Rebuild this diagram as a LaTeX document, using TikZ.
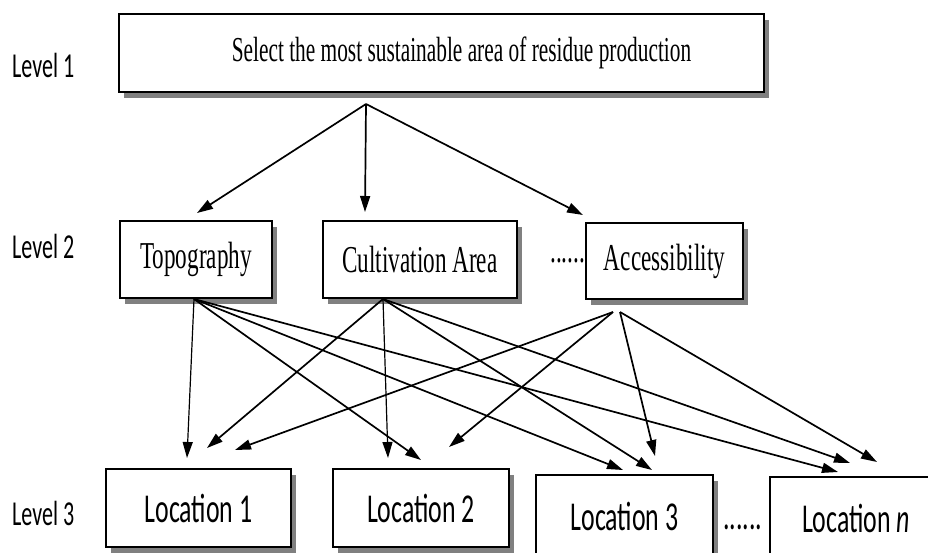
\documentclass[tikz,border=0pt]{standalone}
\usepackage{fontspec}
\newfontfamily\tnrfnt[FakeStretch=0.61]{Liberation Serif}
\newfontfamily\calfnt[FakeStretch=0.63]{Carlito}
\usetikzlibrary{shadows,arrows.meta}
\begin{document}
\begin{tikzpicture}[x=1pt,y=-1pt,
  box/.style={draw=black, line width=1.9pt, fill=white, inner sep=0pt,
    drop shadow={shadow xshift=5pt, shadow yshift=-6pt, fill=black!50, opacity=1}},
  serifbox/.style={box, font=\tnrfnt\fontsize{38}{40}\selectfont},
  locbox/.style={box, line width=1.7pt, minimum width=#1, font=\calfnt\fontsize{41}{44}\selectfont},
  lvl/.style={anchor=base west, inner sep=0pt, font=\calfnt\fontsize{35}{38}\selectfont},
  arr/.style={-{Triangle[length=16pt,width=10pt]}, line width=1.7pt},
  dots/.style={inner sep=0pt, anchor=base west}]
\useasboundingbox (0,0) rectangle (928,552);
% level labels
\node[lvl] (l1) at (12,77) {Level 1};
\node[lvl] (l2) at (12,258) {Level 2};
\node[lvl] (l3) at (12,525) {Level 3};
% level 1
\node[box, minimum width=645pt, minimum height=78pt, font=\tnrfnt\fontsize{35}{38}\selectfont] (top) at (441.5,53) {\hspace*{40pt}Select the most sustainable area of residue production};
% level 2
\node[serifbox, minimum width=152pt, minimum height=77pt] (topo) at (196,259.5) {Topography};
\node[serifbox, minimum width=194pt, minimum height=77pt] (cult) at (420,259.5) {Cultivation Area};
\node[serifbox, minimum width=157pt, minimum height=76pt] (acc) at (664.5,261) {Accessibility};
\node[dots, font=\tnrfnt\fontsize{38}{40}\selectfont] (d2) at (550,262) {......};
% level 3
\node[locbox=185pt, minimum height=78pt] (loc1) at (198.5,508) {Location 1};
\node[locbox=176pt, minimum height=78pt] (loc2) at (421,508) {Location 2};
\node[locbox=177pt, minimum height=82pt] (loc3) at (624.5,516) {Location 3};
\node[locbox=172pt, minimum height=82pt] (locn) at (856,518) {Location \textit{n}};
\node[dots, font=\calfnt\fontsize{41}{44}\selectfont] (d3) at (723,529) {......};
% connector coordinates
\coordinate (topsrc) at (366,104);
\coordinate (t1) at (197,213);
\coordinate (t2) at (365,212);
\coordinate (t3) at (583,215);
\coordinate (topoout) at (194,299);
\coordinate (cultout) at (383,299);
\coordinate (accoutA) at (613,312);
\coordinate (accoutB) at (620,312);
\coordinate (pa1) at (187,458);
\coordinate (pa2) at (421,460);
\coordinate (pa3) at (623,470);
\coordinate (pan) at (838,472);
\coordinate (pb1) at (207,448);
\coordinate (pb2) at (388,458);
\coordinate (pb3) at (652,470);
\coordinate (pbn) at (850,463);
\coordinate (pc1) at (235,450);
\coordinate (pc2) at (449,447);
\coordinate (pc3) at (655,456);
\coordinate (pcn) at (877,462);
% level 1 -> level 2
\draw[arr] (topsrc) -- (t1);
\draw[arr] (topsrc) -- (t2);
\draw[arr] (topsrc) -- (t3);
% level 2 -> level 3
\draw[arr, line width=1.2pt] (topoout) -- (pa1);
\draw[arr] (topoout) -- (pa2);
\draw[arr] (topoout) -- (pa3);
\draw[arr] (topoout) -- (pan);
\draw[arr] (cultout) -- (pb1);
\draw[arr, line width=1.2pt] (cultout) -- (pb2);
\draw[arr] (cultout) -- (pb3);
\draw[arr] (cultout) -- (pbn);
\draw[arr] (accoutA) -- (pc1);
\draw[arr] (accoutA) -- (pc2);
\draw[arr] (accoutB) -- (pc3);
\draw[arr] (accoutB) -- (pcn);
\end{tikzpicture}
\end{document}
